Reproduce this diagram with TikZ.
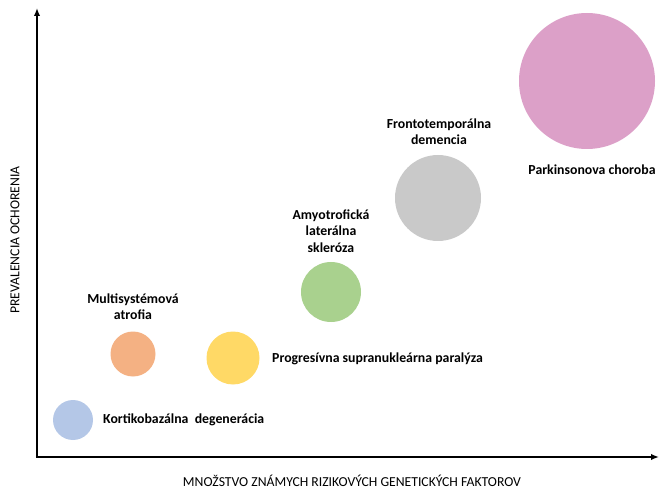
\documentclass[tikz,border=0pt]{standalone}
\usepackage{fontspec}
\setmainfont{Carlito}
\usetikzlibrary{arrows.meta}
\definecolor{cblue}{RGB}{180,199,231}
\definecolor{corange}{RGB}{244,177,131}
\definecolor{cyellow}{RGB}{255,217,102}
\definecolor{cgreen}{RGB}{169,209,142}
\definecolor{cgrey}{RGB}{201,201,201}
\definecolor{cpink}{RGB}{220,160,200}
\begin{document}
\begin{tikzpicture}[x=1pt,y=-1pt,
  bubble/.style={circle,inner sep=0pt,minimum size=#1},
  lbl/.style={font=\fontsize{13.8}{16.5}\selectfont\bfseries,align=center,inner sep=0pt},
  axlbl/.style={font=\fontsize{13.7}{16}\selectfont,inner sep=0pt},
  axis/.style={line width=2.5pt,-{Latex[length=8pt,width=6.5pt]}}]
\useasboundingbox (0,0) rectangle (659,489);
\coordinate (O) at (37,457);
\coordinate (ytop) at (37,8);
\coordinate (xend) at (659,457);
\draw[axis] (O) -- (ytop);
\draw[axis] ([xshift=-1.25pt]O) -- (xend);
\node[axlbl,rotate=90] (ylab) at (15,240) {PREVALENCIA OCHORENIA};
\node[axlbl] (xlab) at (352,481) {MNOŽSTVO ZNÁMYCH RIZIKOVÝCH GENETICKÝCH FAKTOROV};
% bubbles
\node[bubble=40pt,fill=cblue] (kbd) at (73,420) {};
\node[bubble=45pt,fill=corange] (msa) at (133,354) {};
\node[bubble=53pt,fill=cyellow] (psp) at (233,358) {};
\node[bubble=60pt,fill=cgreen] (als) at (331,292) {};
\node[bubble=86pt,fill=cgrey] (ftd) at (438,198) {};
\node[bubble=136pt,fill=cpink] (pd) at (587,81) {};
% labels
\node[lbl,anchor=west] (kbdl) at (103,420) {Kortikobazálna\ \ degenerácia};
\node[lbl] (msal) at (133,306.5) {Multisystémová\\atrofia};
\node[lbl,anchor=west] (pspl) at (272,359) {Progresívna supranukleárna paralýza};
\node[lbl] (alsl) at (331,231) {Amyotrofická\\laterálna\\skleróza};
\node[lbl] (ftdl) at (439,131.5) {Frontotemporálna\\demencia};
\node[lbl] (pdl) at (592,170) {Parkinsonova choroba};
\end{tikzpicture}
\end{document}
